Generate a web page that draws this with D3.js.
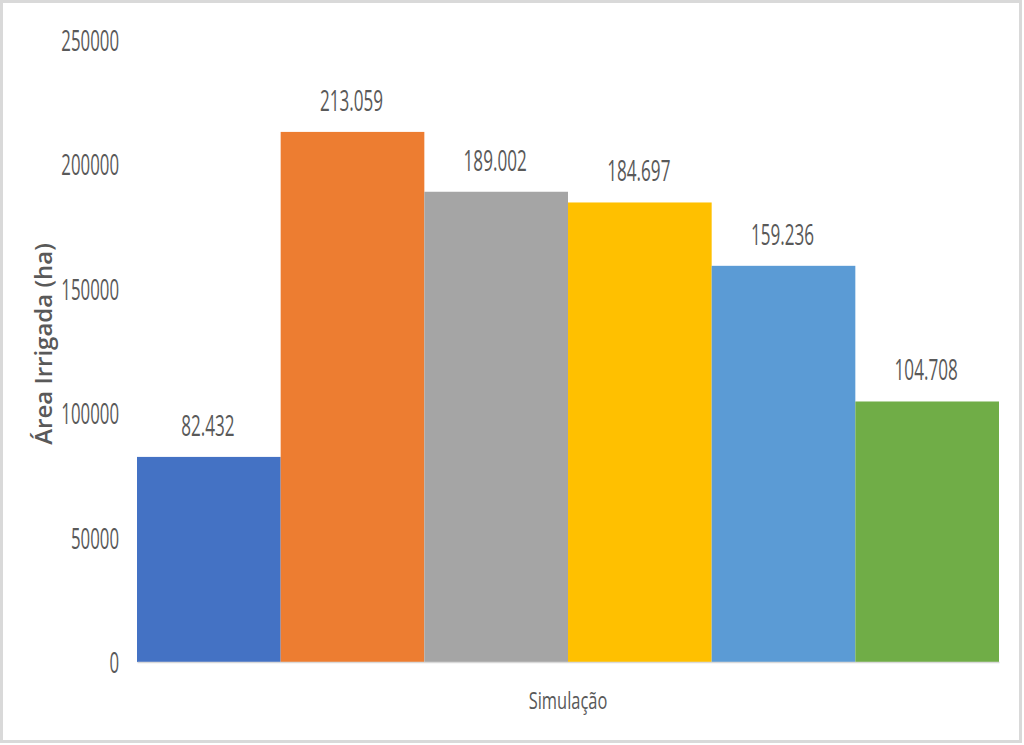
<!DOCTYPE html>
<html>
<head>
<meta charset="utf-8">
<script src="https://cdn.jsdelivr.net/npm/d3@7"></script>
<style>
  html, body { margin: 0; padding: 0; background: #fff; }
  svg { display: block; }
</style>
</head>
<body>
<svg id="chart" width="1024" height="745"></svg>
<script>
const categories = ["Simulação"];
const seriesNames = ["Simulação 1", "Simulação 2", "Simulação 3", "Simulação 4", "Simulação 5", "Simulação 6"];
const seriesValues = [82432, 213059, 189002, 184697, 159236, 104708];
const valueLabels = ["82.432", "213.059", "189.002", "184.697", "159.236", "104.708"];
const yTicks = [0, 50000, 100000, 150000, 200000, 250000];
const colors = ["#4472C4", "#ED7D31", "#A5A5A5", "#FFC000", "#5B9BD5", "#70AD47"];

const svg = d3.select("#chart");
const FONT = "'Open Sans', 'Noto Sans', sans-serif";
const TEXT = "#595959";
const SX = 0.59; // horizontal condensing of labels

// outer border
svg.append("rect")
  .attr("x", 1.5).attr("y", 1.5)
  .attr("width", 1019).attr("height", 740)
  .attr("fill", "#fff")
  .attr("stroke", "#d9d9d9").attr("stroke-width", 3);

const plot = { left: 137, right: 999, top: 40, bottom: 662 };

const y = d3.scaleLinear().domain([0, 250000]).range([plot.bottom, plot.top]);
const x0 = d3.scaleBand().domain(categories).range([plot.left, plot.right]).padding(0);
const x1 = d3.scaleBand().domain(seriesNames).range([0, x0.bandwidth()]).padding(0);

// bars
const g = svg.append("g");
categories.forEach(cat => {
  const cg = g.append("g").attr("transform", `translate(${x0(cat)},0)`);
  cg.selectAll("rect")
    .data(seriesNames.map((s, i) => ({ s, v: seriesValues[i], c: colors[i] })))
    .join("rect")
    .attr("x", d => x1(d.s))
    .attr("width", x1.bandwidth())
    .attr("y", d => y(d.v))
    .attr("height", d => y(0) - y(d.v))
    .attr("fill", d => d.c);

  cg.selectAll("text.val")
    .data(seriesNames.map((s, i) => ({ s, v: seriesValues[i], lab: valueLabels[i] })))
    .join("text")
    .attr("class", "val")
    .attr("text-anchor", "middle")
    .attr("transform", d => `translate(${x1(d.s) + x1.bandwidth() / 2 - 1},${y(d.v) - 21}) scale(${SX},1)`)
    .attr("font-family", FONT)
    .attr("font-size", 29)
    .attr("fill", TEXT)
    .text(d => d.lab);
});

// x axis
const xAxis = svg.append("g")
  .attr("transform", `translate(0,${plot.bottom})`)
  .call(d3.axisBottom(x0).tickSize(0).tickPadding(0));
xAxis.select(".domain").attr("stroke", "#d9d9d9").attr("stroke-width", 1.5);
xAxis.selectAll(".tick text")
  .attr("y", 0).attr("dy", 0)
  .attr("transform", "translate(0,47) scale(0.7,1)")
  .attr("font-family", FONT)
  .attr("font-size", 23.5)
  .attr("fill", TEXT);

// y axis
const yAxis = svg.append("g")
  .attr("transform", `translate(${plot.left},0)`)
  .call(d3.axisLeft(y).tickValues(yTicks).tickFormat(d3.format("d")).tickSize(0));
yAxis.select(".domain").remove();
yAxis.selectAll(".tick text")
  .attr("x", 0).attr("dy", 0).attr("y", 0)
  .attr("text-anchor", "end")
  .attr("transform", `translate(-18,10.5) scale(${SX},1)`)
  .attr("font-family", FONT)
  .attr("font-size", 28.5)
  .attr("fill", TEXT);

// y axis title
svg.append("text")
  .attr("transform", "translate(52,344) rotate(-90)")
  .attr("text-anchor", "middle")
  .attr("font-family", FONT)
  .attr("font-size", 24)
  .attr("font-weight", 600)
  .attr("fill", TEXT)
  .text("Área Irrigada (ha)");
</script>
</body>
</html>
